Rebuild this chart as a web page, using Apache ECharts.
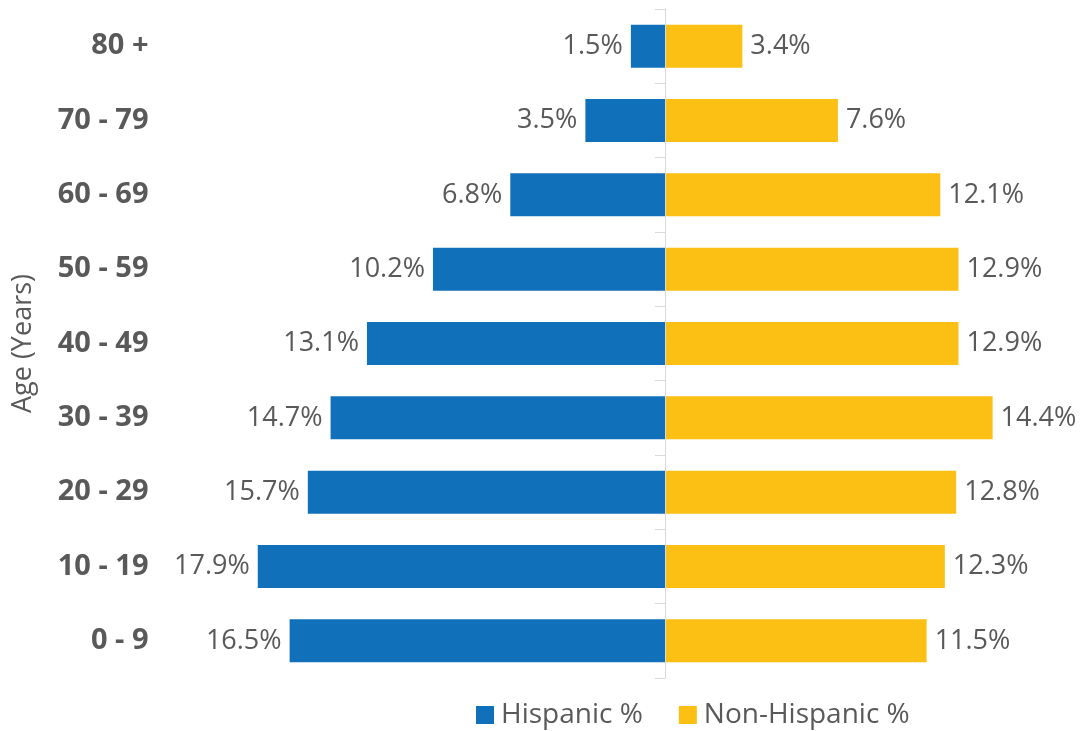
<!DOCTYPE html>
<html>
<head>
<meta charset="utf-8">
<script src="https://cdn.jsdelivr.net/npm/echarts@6/dist/echarts.min.js"></script>
<style>
  html, body { margin: 0; padding: 0; background: #fff; }
  #chart { width: 1082px; height: 731px; }
</style>
</head>
<body>
<div id="chart"></div>
<script>
// Age groups, listed bottom to top as the category axis draws them
const ageGroups = ['0 - 9', '10 - 19', '20 - 29', '30 - 39', '40 - 49', '50 - 59', '60 - 69', '70 - 79', '80 +'];
// Share of each population in every age group (%)
const hispanicPct = [16.5, 17.9, 15.7, 14.7, 13.1, 10.2, 6.8, 3.5, 1.5];
const nonHispanicPct = [11.5, 12.3, 12.8, 14.4, 12.9, 12.9, 12.1, 7.6, 3.4];
const seriesNames = ['Hispanic %', 'Non-Hispanic %'];

const FONT = '"Open Sans", "Noto Sans", sans-serif';
const TEXT = '#595959';

const chart = echarts.init(document.getElementById('chart'), null, { renderer: 'canvas' });

const valueLabel = {
  show: true,
  color: TEXT,
  fontFamily: FONT,
  fontSize: 27,
  distance: 8,
  formatter: p => Math.abs(p.value).toFixed(1) + '%'
};

chart.setOption({
  animation: false,
  grid: { left: 164.5, right: 7.5, top: 9, bottom: 53, containLabel: false },
  legend: {
    left: 471,
    top: 696,
    itemWidth: 18,
    itemHeight: 18,
    itemGap: 36,
    icon: 'rect',
    textStyle: { color: TEXT, fontFamily: FONT, fontSize: 28, padding: [0, 0, 0, 2] },
    data: seriesNames
  },
  xAxis: {
    type: 'value',
    min: -22,
    max: 18,
    show: false
  },
  yAxis: [
    {
      // centre spine at zero
      type: 'category',
      data: ageGroups,
      z: 5,
      axisLine: { onZero: true, lineStyle: { color: '#D9D9D9', width: 1 } },
      axisTick: { show: true, length: 10, lineStyle: { color: '#D9D9D9' } },
      axisLabel: { show: false }
    },
    {
      // age group labels at the left edge
      type: 'category',
      data: ageGroups,
      position: 'left',
      axisLine: { show: false, onZero: false },
      axisTick: { show: false },
      axisLabel: {
        margin: 16,
        color: TEXT,
        fontFamily: FONT,
        fontWeight: 'bold',
        fontSize: 29,
        padding: [4, 0, 0, 0]
      },
      name: 'Age (Years)',
      nameLocation: 'middle',
      nameRotate: 90,
      nameGap: 128,
      nameTextStyle: { color: TEXT, fontFamily: FONT, fontSize: 27 }
    }
  ],
  series: [
    {
      name: seriesNames[0],
      type: 'bar',
      stack: 'pyramid',
      yAxisIndex: 0,
      barWidth: 43,
      itemStyle: { color: '#1170BA' },
      label: Object.assign({ position: 'left' }, valueLabel),
      data: hispanicPct.map(v => -v)
    },
    {
      name: seriesNames[1],
      type: 'bar',
      stack: 'pyramid',
      yAxisIndex: 0,
      barWidth: 43,
      itemStyle: { color: '#FBC013' },
      label: Object.assign({ position: 'right' }, valueLabel),
      data: nonHispanicPct
    }
  ]
});
</script>
</body>
</html>
